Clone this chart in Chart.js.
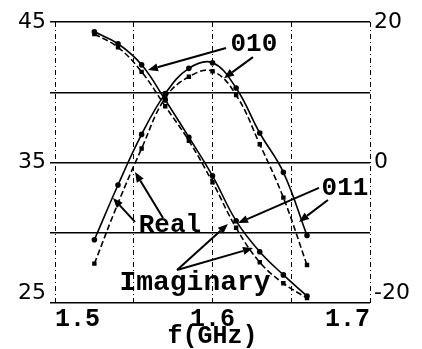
<!DOCTYPE html>
<html>
<head>
<meta charset="utf-8">
<script src="https://cdn.jsdelivr.net/npm/chart.js@4.4.1/dist/chart.umd.min.js"></script>
<style>
  html, body { margin: 0; padding: 0; background: #fff; }
</style>
</head>
<body>
<canvas id="impChart" width="422" height="349"></canvas>
<script>
/* =========================
   DATA
========================= */
const freq = [1.525, 1.54, 1.555, 1.57, 1.585, 1.6, 1.615, 1.63, 1.645, 1.66];

// real part, left axis
const real010 = [29.5, 33.4, 37.0, 39.9, 41.7, 42.1, 40.3, 37.1, 34.3, 29.8];
const real011 = [27.8, 32.1, 36.0, 39.6, 41.1, 41.5, 39.8, 36.3, 32.5, 27.7];

// imaginary part, right axis
const imag010 = [18.6, 16.9, 13.9, 8.9, 3.6, -1.9, -8.3, -12.7, -16.0, -19.0];
const imag011 = [18.3, 16.4, 12.9, 8.0, 3.1, -2.8, -9.3, -14.2, -17.2, -19.3];

const freqGrid = [1.5, 1.55, 1.6, 1.65, 1.7];
const freqTicks = [1.5, 1.6, 1.7];
const leftTicks = [25, 35, 45];
const rightTicks = [-20, 0, 20];

// callout text + arrows, given in (GHz, left axis) units
const callouts = [
    { text: '010', size: 26, at: [1.6263, 43.43],
      arrows: [[[1.6086, 43.15], [1.559, 41.58]], [[1.6257, 42.5], [1.6073, 41.0]]] },
    { text: '011', size: 26, at: [1.6841, 33.18],
      arrows: [[[1.6676, 33.19], [1.6162, 30.69]], [[1.6733, 32.33], [1.6549, 30.77]]] },
    { text: 'Real', size: 26, at: [1.573, 30.55],
      arrows: [[[1.5508, 30.77], [1.5368, 32.47]], [[1.5686, 31.05], [1.5508, 34.32]]] },
    { text: 'Imaginary', size: 28, at: [1.5889, 26.42],
      arrows: [[[1.5775, 27.35], [1.6098, 30.62]], [[1.5775, 27.35], [1.6257, 28.91]]] }
];

const MONO = '"Liberation Mono", "DejaVu Sans Mono", monospace';
const SANS = '"DejaVu Sans", sans-serif';

function pts(ys){
    return freq.map((f, i) => ({ x: f, y: ys[i] }));
}

function near(list, v){
    return list.some(t => Math.abs(t - v) < 1e-6);
}

// bottom labels sit a little above their tick
function tickText(list, bottom){
    return v => {
        if(!near(list, v)) return '';
        return v === bottom ? [String(v), ''] : String(v);
    };
}

/* =========================
   CALLOUT PLUGIN
========================= */
const calloutPlugin = {
    id: 'callouts',
    afterDatasetsDraw(chart){
        const ctx = chart.ctx;
        const sx = chart.scales.x, sy = chart.scales.y;
        const px = p => [sx.getPixelForValue(p[0]), sy.getPixelForValue(p[1])];

        ctx.save();
        ctx.strokeStyle = '#000';
        ctx.fillStyle = '#000';
        ctx.lineWidth = 2;

        callouts.forEach(c => {
            c.arrows.forEach(a => {
                const [x0, y0] = px(a[0]);
                const [x1, y1] = px(a[1]);
                const ang = Math.atan2(y1 - y0, x1 - x0);
                const len = 10, hw = 4;
                const bx = x1 - len * Math.cos(ang), by = y1 - len * Math.sin(ang);

                ctx.beginPath();
                ctx.moveTo(x0, y0);
                ctx.lineTo(bx, by);
                ctx.stroke();

                ctx.beginPath();
                ctx.moveTo(x1, y1);
                ctx.lineTo(bx + hw * Math.sin(ang), by - hw * Math.cos(ang));
                ctx.lineTo(bx - hw * Math.sin(ang), by + hw * Math.cos(ang));
                ctx.closePath();
                ctx.fill();
            });

            const [tx, ty] = px(c.at);
            ctx.font = 'bold ' + c.size + 'px ' + MONO;
            ctx.textAlign = 'center';
            ctx.textBaseline = 'middle';
            ctx.fillText(c.text, tx, ty);
        });

        ctx.restore();
    }
};

/* =========================
   CHART
========================= */
function line(data, axis, dashed, style){
    return {
        data: data,
        yAxisID: axis,
        borderColor: '#000',
        borderWidth: 1.6,
        borderDash: dashed ? [6, 3] : [],
        pointStyle: style,
        pointRadius: 2,
        pointBackgroundColor: '#000',
        pointBorderColor: '#000',
        fill: false,
        tension: 0.4
    };
}

new Chart(document.getElementById('impChart'), {
    type: 'line',
    data: {
        datasets: [
            line(pts(real010), 'y', false, 'circle'),
            line(pts(real011), 'y', true, 'rect'),
            line(pts(imag010), 'y2', false, 'circle'),
            line(pts(imag011), 'y2', true, 'rect')
        ]
    },
    options: {
        responsive: false,
        animation: false,
        layout: { padding: { top: 22 } },
        plugins: {
            legend: { display: false },
            tooltip: { enabled: false }
        },
        scales: {
            x: {
                type: 'linear',
                min: 1.5,
                max: 1.7,
                afterBuildTicks: s => { s.ticks = freqGrid.map(v => ({ value: v })); },
                afterFit: s => { s.height = 46; },
                ticks: {
                    autoSkip: false,
                    maxRotation: 0,
                    align: 'inner',
                    padding: 3,
                    color: '#000',
                    font: { family: MONO, size: 25, weight: 'bold', lineHeight: 1.1 },
                    callback: v => near(freqTicks, v) ? v.toFixed(1) : ''
                },
                grid: { color: '#000', lineWidth: 1, drawTicks: false },
                border: { display: false, dash: [5, 3, 1, 3] },
                title: {
                    display: true,
                    text: 'f(GHz)',
                    color: '#000',
                    padding: 0,
                    font: { family: MONO, size: 25, weight: 'bold', lineHeight: 1 }
                }
            },
            y: {
                position: 'left',
                min: 25,
                max: 45,
                afterFit: s => { s.width = 55; },
                ticks: {
                    stepSize: 5,
                    padding: 4,
                    color: '#000',
                    font: { family: SANS, size: 22, lineHeight: 0.9 },
                    callback: tickText(leftTicks, 25)
                },
                grid: { color: '#000', lineWidth: 1.5, tickLength: 5 },
                border: { display: false }
            },
            y2: {
                position: 'right',
                min: -20,
                max: 20,
                afterBuildTicks: s => { s.ticks = rightTicks.map(v => ({ value: v })); },
                afterFit: s => { s.width = 52; },
                ticks: {
                    padding: 4,
                    color: '#000',
                    font: { family: SANS, size: 22, lineHeight: 0.9 },
                    callback: tickText(rightTicks, -20)
                },
                grid: { display: false, drawTicks: false },
                border: { display: false }
            }
        }
    },
    plugins: [calloutPlugin]
});
</script>
</body>
</html>
